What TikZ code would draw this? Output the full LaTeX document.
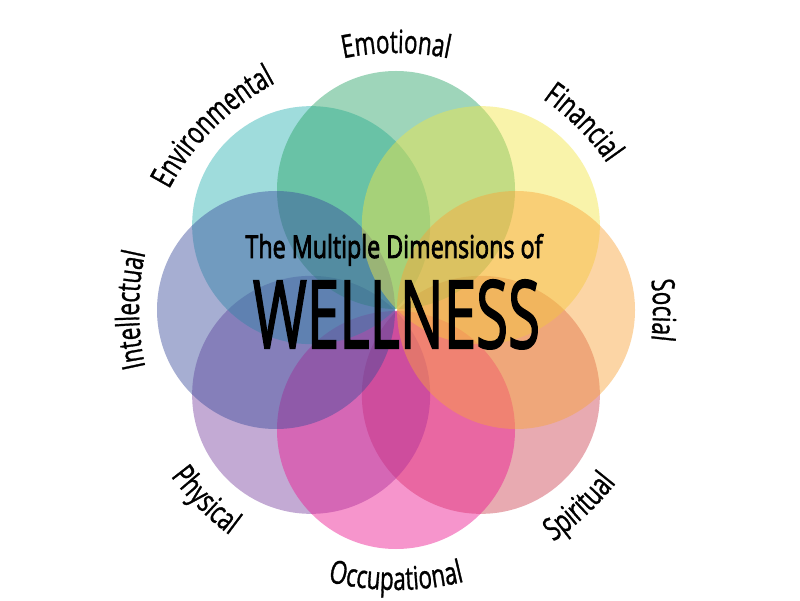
\documentclass[tikz,border=0pt]{standalone}
\usepackage{fontspec}
\usepackage{graphicx}
\usetikzlibrary{decorations.text,calc}
\newfontfamily\lblfont[FakeStretch=0.7,FakeBold=1]{Open Sans}
\newfontfamily\ttlfont[FakeBold=3]{Open Sans}
\newfontfamily\bigfont[FakeBold=2.2]{Open Sans}
\definecolor{cemo}{RGB}{40,164,102}
\definecolor{cenv}{RGB}{44,178,178}
\definecolor{cfin}{RGB}{242,229,67}
\definecolor{csoc}{RGB}{249,164,56}
\definecolor{cspi}{RGB}{204,67,84}
\definecolor{cocc}{RGB}{236,22,144}
\definecolor{cphy}{RGB}{124,67,160}
\definecolor{cint}{RGB}{58,76,156}
\tikzset{
  petal/.style={circle,fill=#1,fill opacity=0.45,draw=none,minimum size=238pt,inner sep=0pt},
  titletext/.style={anchor=base,inner sep=0pt,text=black}
}
\newcommand\toplabel[2]{%
  \path[decorate,decoration={text along path,text align=center,
    text={|\lblfont\fontsize{32pt}{32pt}\selectfont|#2}}]
    ($(C)+(#1+45:257)$) arc[start angle=#1+45,end angle=#1-45,radius=257];}
\newcommand\botlabel[2]{%
  \path[decorate,decoration={text along path,text align=center,
    text={|\lblfont\fontsize{32pt}{32pt}\selectfont|#2}}]
    ($(C)+(#1-45:280)$) arc[start angle=#1-45,end angle=#1+45,radius=280];}
\begin{document}
\begin{tikzpicture}[x=1pt,y=1pt]
\useasboundingbox (0,0) rectangle (800,600);
\fill[white] (0,0) rectangle (800,600);
\coordinate (C) at (396,290);
% petals (bottom to top)
\node[petal=cspi] (spi) at ($(C)+(-45:120)$) {};
\node[petal=cphy] (phy) at ($(C)+(-135:120)$) {};
\node[petal=cocc] (occ) at ($(C)+(-90:120)$) {};
\node[petal=cenv] (env) at ($(C)+(135:120)$) {};
\node[petal=cemo] (emo) at ($(C)+(90:120)$) {};
\node[petal=cint] (int) at ($(C)+(180:120)$) {};
\node[petal=cfin] (fin) at ($(C)+(45:120)$) {};
\node[petal=csoc] (soc) at ($(C)+(0:120)$) {};
% labels
\toplabel{90}{Emotional}
\toplabel{45}{Financial}
\toplabel{0}{Social}
\toplabel{135}{Environmental}
\toplabel{180}{Intellectual}
\botlabel{-47}{Spiritual}
\botlabel{-90}{Occupational}
\botlabel{-135}{Physical}
% title
\node[titletext] (t1) at (394,342) {\resizebox{297pt}{24pt}{\ttlfont The Multiple Dimensions of}};
\node[titletext] (t2) at (396.5,252) {\resizebox{287pt}{68pt}{\bigfont WELLNESS}};
\end{tikzpicture}
\end{document}
